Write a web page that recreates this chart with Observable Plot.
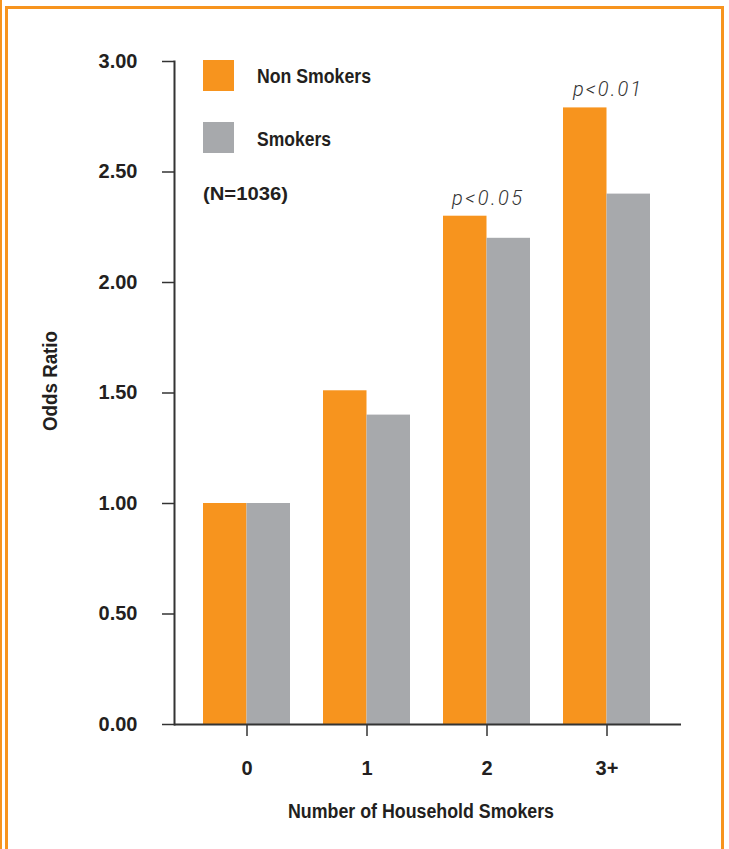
<!DOCTYPE html>
<html>
<head>
<meta charset="utf-8">
<script src="https://cdn.jsdelivr.net/npm/d3@7"></script>
<script src="https://cdn.jsdelivr.net/npm/@observablehq/plot@0.6"></script>
<style>
  html, body { margin: 0; padding: 0; background: #fff; }
  #wrap { position: relative; width: 729px; height: 849px; overflow: hidden; }
  #box { position: absolute; left: 5px; top: 6px; width: 713px; height: 900px; border: 3px solid #F7941E; box-sizing: content-box; }
  #strip { position: absolute; left: 0; top: 0; width: 2px; height: 849px; background: #F7941E; }
  #chart { position: absolute; left: 0; top: 0; }
  .leg { position: absolute; font-family: "Liberation Sans", Arial, sans-serif; font-weight: bold; color: #231F20; white-space: nowrap; display: inline-block; transform-origin: 0 50%; }
  .sw { position: absolute; width: 31px; height: 31px; }
</style>
</head>
<body>
<div id="wrap">
  <div id="strip"></div>
  <div id="box"></div>
  <div id="chart"></div>
  <div class="sw" style="left:203px;top:60px;background:#F7941E"></div>
  <span class="leg" data-w="114" style="left:257px;top:65px;font-size:21px;line-height:21px">Non Smokers</span>
  <div class="sw" style="left:203px;top:122px;background:#A7A9AC"></div>
  <span class="leg" data-w="74" style="left:257px;top:128px;font-size:21px;line-height:21px">Smokers</span>
  <span class="leg" data-w="85" style="left:203px;top:185px;font-size:18px;line-height:18px">(N=1036)</span>
</div>
<script>
const categories = ["0", "1", "2", "3+"];
const nonSmokers = [1.00, 1.51, 2.30, 2.79];
const smokers = [1.00, 1.40, 2.20, 2.40];
const yTicks = [0, 0.5, 1.0, 1.5, 2.0, 2.5, 3.0];
const pLabels = ["", "", "p<0.05", "p<0.01"];

const orange = "#F7941E";
const gray = "#A7A9AC";
const ink = "#231F20";
const boldFont = "'Liberation Sans', Arial, sans-serif";

const nonData = categories.map((c, i) => ({cat: c, v: nonSmokers[i]}));
const smkData = categories.map((c, i) => ({cat: c, v: smokers[i]}));
const pData = categories.map((c, i) => ({cat: c, v: nonSmokers[i], t: pLabels[i]})).filter(d => d.t);

const chart = Plot.plot({
  width: 729,
  height: 849,
  marginLeft: 174,
  marginRight: 48,
  marginTop: 61,
  marginBottom: 125,
  style: {background: "transparent", color: ink, overflow: "visible"},
  x: {domain: categories, paddingInner: 0.275, paddingOuter: 0.1375, insetLeft: 12.5, insetRight: 14.5},
  y: {domain: [0, 3]},
  marks: [
    Plot.barY(nonData, {x: "cat", y: "v", fill: orange, insetRight: 43.5}),
    Plot.barY(smkData, {x: "cat", y: "v", fill: gray, insetLeft: 43.5}),
    Plot.text(pData, {x: "cat", y: "v", text: "t", dy: -18, fontFamily: "Roboto, 'Liberation Sans', sans-serif", fontStyle: "italic", fontWeight: 300, fontSize: 20, fill: "#333", className: "pval"}),
    Plot.axisY({ticks: yTicks, tickFormat: d3.format(".2f"), tickSize: 12, tickPadding: 25, strokeWidth: 1.5, stroke: "#333",
      fontSize: 20, fontWeight: "bold", fontFamily: boldFont, fill: ink,
      label: "Odds Ratio", labelAnchor: "center", labelOffset: 132, labelArrow: "none"}),
    Plot.axisX({tickSize: 12, tickPadding: 24, strokeWidth: 1.5, stroke: "#333",
      fontSize: 20, fontWeight: "bold", fontFamily: boldFont, fill: ink,
      label: "Number of Household Smokers", labelAnchor: "center", labelOffset: 93, labelArrow: "none"}),
    Plot.frame({anchor: "left", stroke: "#333", strokeWidth: 2}),
    Plot.ruleY([0], {stroke: "#333", strokeWidth: 2})
  ]
});
document.getElementById("chart").appendChild(chart);

function fixLabel(aria, w, size, shift) {
  const g = chart.querySelector(`g[aria-label="${aria}"]`);
  if (!g) return;
  g.setAttribute("font-size", size);
  g.setAttribute("font-weight", "bold");
  g.setAttribute("font-family", boldFont);
  g.querySelectorAll("text").forEach(t => {
    t.setAttribute("textLength", w);
    t.setAttribute("lengthAdjust", "spacingAndGlyphs");
    t.setAttribute("font-size", size);
  });
  const prev = g.getAttribute("transform") || "";
  g.setAttribute("transform", `${shift} ${prev}`);
}
fixLabel("x-axis label", 266, 20, "translate(-7,0)");
fixLabel("y-axis label", 100, 20, "translate(0,-12)");

chart.querySelectorAll(".pval text").forEach(t => {
  const w = t.textContent === "p<0.05" ? 70 : 68;
  t.setAttribute("textLength", w); t.setAttribute("lengthAdjust", "spacing");
});
document.querySelectorAll(".leg").forEach(el => {
  const target = +el.dataset.w;
  const w = el.getBoundingClientRect().width;
  el.style.transform = `scaleX(${target / w})`;
});
</script>
</body>
</html>
